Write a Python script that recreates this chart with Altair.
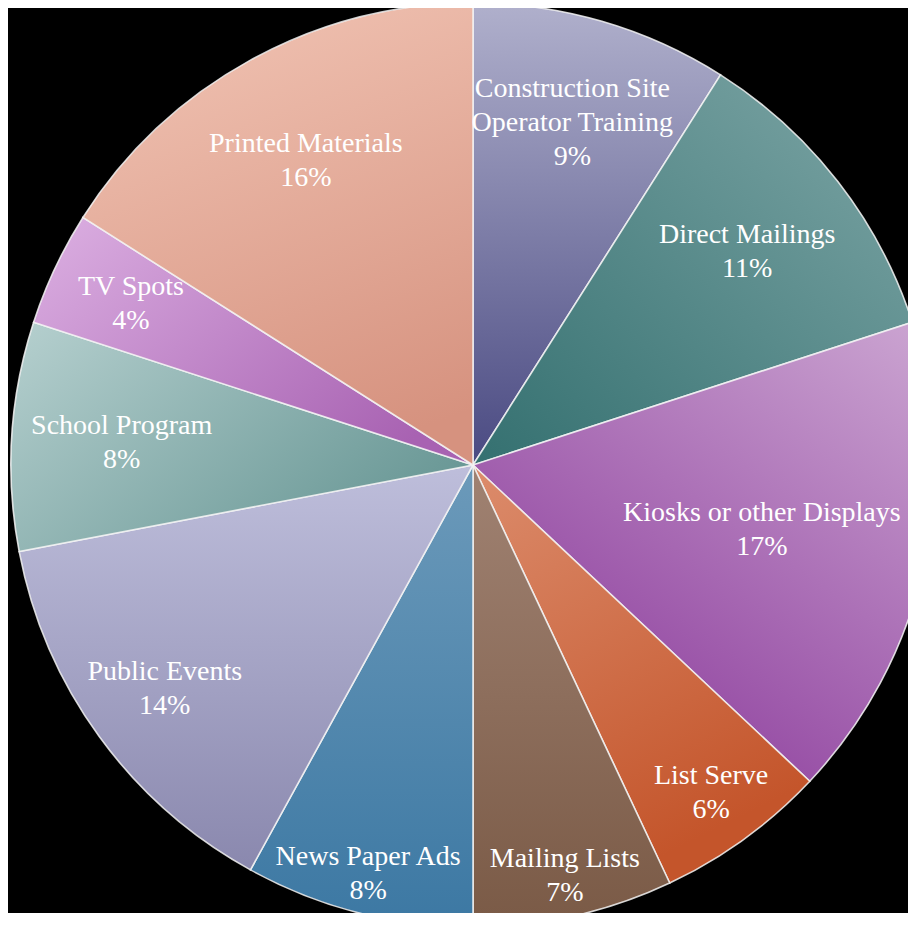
import math
import altair as alt
import pandas as pd

categories = [
    "Construction Site Operator Training",
    "Direct Mailings",
    "Kiosks or other Displays",
    "List Serve",
    "Mailing Lists",
    "News Paper Ads",
    "Public Events",
    "School Program",
    "TV Spots",
    "Printed Materials",
]
shares = [9, 11, 17, 6, 7, 8, 14, 8, 4, 16]

# styling (kept apart from the data)
light_colors = ["#b0b0cc", "#7ea6a6", "#cca6d2", "#dc8c6c", "#a08272", "#6c9aba",
                "#bebedb", "#b6d0cf", "#dcb0e2", "#f0c2b2"]
dark_colors = ["#4a4a82", "#347070", "#8c3c9c", "#c4552b", "#7a5a46", "#3c78a3",
               "#8a88ae", "#6a9896", "#a862b2", "#d6927f"]
grad_dirs = [(0, 0, 0, 1), (1, 0, 0, 1), (1, 0, 0.3, 1), (0, 0, 0.4, 1), (0, 0, 0, 1),
             (0, 0, 0, 1), (0, 0, 0, 1), (0, 0, 1, 0.6), (0, 0, 1, 0.7), (0.3, 0, 0.6, 1)]
# label distance from centre along each slice bisector (layout)
label_radius = [356, 347, 296, 405, 421, 422, 381, 352, 378, 347]

df = pd.DataFrame({"category": categories, "share": shares, "order": list(range(len(categories)))})

theta_scale = alt.Scale(domain=[0, 100], range=[0, 2 * math.pi])

base = (
    alt.Chart(df)
    .transform_window(end="sum(share)", sort=[alt.SortField("order")])
    .transform_calculate(start="datum.end - datum.share", mid="datum.end - datum.share / 2")
)

R = 462
FS = 28
LH = 34
layers = []
for cat, lc, dc, (x1, y1, x2, y2) in zip(categories, light_colors, dark_colors, grad_dirs):
    grad = alt.LinearGradient(
        gradient="linear",
        x1=x1, y1=y1, x2=x2, y2=y2,
        stops=[alt.GradientStop(offset=0, color=lc), alt.GradientStop(offset=1, color=dc)],
    )
    layers.append(
        base.transform_filter(alt.datum.category == cat)
        .mark_arc(radius=R, fill=grad, stroke="#f4f4f4", strokeWidth=1.6, strokeOpacity=0.85)
        .encode(
            theta=alt.Theta("start:Q", scale=theta_scale),
            theta2="end:Q",
        )
    )

text_layers = []
for cat, lr in zip(categories, label_radius):
    n_lines = 3 if "Site " in cat else 2
    text_layers.append(
        base.transform_filter(alt.datum.category == cat)
        .transform_calculate(
            label="replace(datum.category, 'Site ', 'Site\\n') + '\\n' + datum.share + '%'"
        )
        .mark_text(lineBreak="\n", font="Liberation Serif", fontSize=FS, color="white",
                   lineHeight=LH, align="center", baseline="middle",
                   dy=-(n_lines - 1) * LH / 2)
        .encode(
            theta=alt.Theta("mid:Q", scale=theta_scale),
            radius=alt.value(lr),
            text="label:N",
        )
    )

chart = (
    alt.layer(*layers, *text_layers)
    .resolve_scale(theta="shared")
    .properties(
        width=870,
        height=896,
        padding={"left": 30, "top": 9, "right": 0, "bottom": 0},
        autosize="none",
        background="black",
    )
    .configure_view(stroke=None)
)

chart.save("out.html", embed_options={"renderer": "svg", "actions": False})
